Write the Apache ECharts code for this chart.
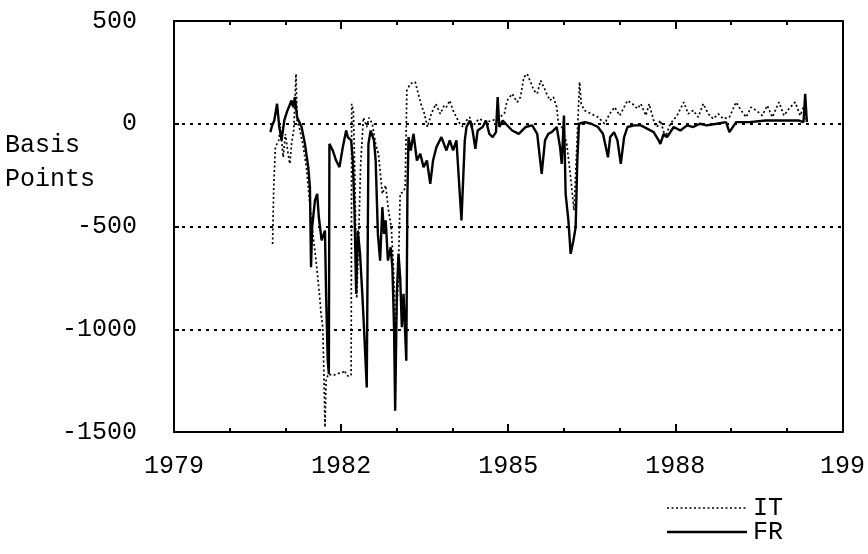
<!DOCTYPE html>
<html>
<head>
<meta charset="utf-8">
<script src="https://cdn.jsdelivr.net/npm/echarts@6/dist/echarts.min.js"></script>
<style>
html,body{margin:0;padding:0;background:#fff;}
#chart{width:868px;height:554px;}
</style>
</head>
<body>
<div id="chart"></div>
<script>
// ---- data ----
const baseYear = 1979;
const xTickLabels = ['1979', '1982', '1985', '1988', '199'];
const yTickValues = [500, 0, -500, -1000, -1500];
const seriesNames = ['IT', 'FR'];

const itDates = [1980.77,1980.79,1980.82,1980.88,1980.91,1980.96,1981.00,1981.05,1981.08,1981.11,1981.15,1981.19,1981.21,1981.26,1981.32,1981.38,1981.44,1981.50,1981.55,1981.61,1981.64,1981.67,1981.69,1981.71,1981.73,1981.77,1981.85,1981.95,1982.03,1982.06,1982.10,1982.15,1982.18,1982.19,1982.22,1982.25,1982.28,1982.31,1982.35,1982.40,1982.46,1982.50,1982.56,1982.62,1982.67,1982.74,1982.80,1982.85,1982.90,1982.94,1982.98,1983.02,1983.06,1983.12,1983.15,1983.18,1983.24,1983.33,1983.40,1983.45,1983.48,1983.55,1983.62,1983.70,1983.78,1983.85,1983.89,1983.95,1984.01,1984.07,1984.13,1984.19,1984.25,1984.31,1984.36,1984.42,1984.48,1984.60,1984.72,1984.84,1984.93,1984.98,1985.07,1985.16,1985.22,1985.28,1985.34,1985.40,1985.46,1985.52,1985.58,1985.64,1985.69,1985.75,1985.81,1985.87,1985.90,1985.96,1986.05,1986.12,1986.18,1986.22,1986.28,1986.31,1986.37,1986.49,1986.61,1986.73,1986.82,1986.91,1987.00,1987.05,1987.14,1987.23,1987.32,1987.38,1987.47,1987.53,1987.61,1987.67,1987.73,1987.82,1987.91,1988.03,1988.15,1988.23,1988.32,1988.41,1988.50,1988.59,1988.68,1988.77,1988.86,1988.97,1989.09,1989.18,1989.27,1989.36,1989.45,1989.56,1989.65,1989.74,1989.86,1989.95,1990.04,1990.15,1990.24,1990.30,1990.36];
const itValues = [-585,-309,-114,-81,-16,-163,-50,-150,-195,-98,-30,243,16,-30,-110,-220,-400,-552,-666,-828,-925,-990,-1200,-1477,-1250,-1218,-1225,-1215,-1210,-1200,-1225,-1230,-1220,97,60,-300,-850,-600,-200,30,-16,30,0,-100,-146,-341,-300,-422,-500,-700,-1000,-800,-341,-330,-309,162,195,203,130,80,65,-16,50,97,48,90,81,113,65,32,0,-16,16,32,-16,8,24,8,16,32,48,113,146,105,130,227,243,203,162,146,211,178,146,113,130,81,0,-16,-98,-260,-422,-179,203,97,65,48,32,0,48,81,40,65,113,97,73,97,40,97,16,-16,16,-65,0,40,105,48,65,32,97,48,24,48,24,32,105,65,32,81,65,40,89,32,105,40,73,105,40,81,16];

const frDates = [1980.73,1980.76,1980.80,1980.85,1980.89,1980.93,1980.98,1981.03,1981.11,1981.14,1981.17,1981.21,1981.29,1981.35,1981.41,1981.44,1981.46,1981.48,1981.53,1981.57,1981.60,1981.65,1981.71,1981.73,1981.76,1981.78,1981.79,1981.85,1981.91,1981.97,1982.03,1982.09,1982.12,1982.18,1982.21,1982.24,1982.27,1982.30,1982.34,1982.38,1982.41,1982.46,1982.49,1982.53,1982.59,1982.62,1982.66,1982.70,1982.74,1982.77,1982.80,1982.84,1982.89,1982.92,1982.95,1982.97,1983.00,1983.03,1983.06,1983.09,1983.12,1983.17,1983.19,1983.21,1983.25,1983.30,1983.36,1983.42,1983.48,1983.54,1983.60,1983.65,1983.71,1983.80,1983.89,1983.95,1984.01,1984.07,1984.16,1984.22,1984.25,1984.31,1984.36,1984.41,1984.45,1984.54,1984.60,1984.66,1984.72,1984.78,1984.81,1984.84,1984.90,1985.01,1985.07,1985.19,1985.31,1985.43,1985.52,1985.60,1985.66,1985.72,1985.78,1985.87,1985.93,1985.96,1986.00,1986.03,1986.08,1986.12,1986.17,1986.21,1986.24,1986.27,1986.37,1986.49,1986.61,1986.70,1986.74,1986.79,1986.83,1986.90,1986.96,1987.02,1987.08,1987.14,1987.26,1987.38,1987.50,1987.61,1987.70,1987.73,1987.79,1987.85,1987.97,1988.09,1988.21,1988.32,1988.44,1988.56,1988.74,1988.91,1988.97,1989.09,1989.33,1989.62,1989.92,1990.21,1990.30,1990.33,1990.36];
const frValues = [-41,-10,16,97,-16,-81,16,60,113,80,130,32,-16,-98,-211,-309,-698,-503,-374,-341,-455,-568,-520,-828,-1153,-1218,-98,-130,-179,-211,-114,-33,-65,-81,-179,-422,-828,-520,-633,-828,-990,-1283,-98,-33,-81,-179,-536,-666,-406,-536,-470,-666,-601,-698,-990,-1396,-828,-633,-747,-990,-828,-1153,-341,-65,-130,-49,-179,-146,-211,-179,-292,-179,-114,-65,-130,-81,-130,-81,-471,-81,-16,16,-33,-122,-33,-16,16,-49,-65,-41,130,-16,16,-16,-33,-49,-16,-8,-49,-244,-81,-49,-41,-16,-114,-195,40,-341,-471,-633,-568,-503,-179,0,8,0,-16,-49,-98,-163,-65,-41,-81,-195,-65,-16,-8,-8,-25,-41,-81,-98,-49,-65,-16,-33,-8,-16,0,-8,0,8,-41,8,8,16,16,16,8,146,8];

function pairs(dates, values) {
  return dates.map((d, i) => [d - baseYear, values[i]]);
}

const FONT = 'Liberation Mono';
const IT_STYLE = {color: '#000', width: 1.7, type: [2, 2.5]};
const FR_STYLE = {color: '#000', width: 2.4, type: 'solid'};
const chart = echarts.init(document.getElementById('chart'), null, {renderer: 'canvas'});
const axisLineStyle = {color: '#000', width: 2};

chart.setOption({
  animation: false,
  backgroundColor: '#fff',
  grid: {left: 174, right: 17, top: 21, bottom: 122, show: false},
  xAxis: [{
    type: 'value', min: 0, max: 12, interval: 3, position: 'bottom',
    axisLine: {show: true, onZero: false, lineStyle: axisLineStyle},
    axisTick: {show: true, inside: true, length: 8, lineStyle: {color: '#000', width: 2}},
    minorTick: {show: true, splitNumber: 3, length: 4, lineStyle: {color: '#000', width: 2}},
    axisLabel: {
      margin: 22, color: '#000', fontFamily: FONT, fontSize: 25,
      formatter: v => xTickLabels[Math.round(v / 3)] || ''
    },
    splitLine: {show: false}
  }, {
    type: 'value', min: 0, max: 12, interval: 3, position: 'top',
    axisLine: {show: true, onZero: false, lineStyle: axisLineStyle},
    axisTick: {show: true, inside: true, length: 8, lineStyle: {color: '#000', width: 2}},
    minorTick: {show: true, splitNumber: 3, length: 4, lineStyle: {color: '#000', width: 2}},
    axisLabel: {show: false},
    splitLine: {show: false}
  }],
  yAxis: [{
    type: 'value', min: yTickValues[yTickValues.length - 1], max: yTickValues[0], interval: 500,
    position: 'left',
    axisLine: {show: true, onZero: false, lineStyle: axisLineStyle},
    axisTick: {show: true, inside: true, length: 5, lineStyle: {color: '#000', width: 2}},
    axisLabel: {margin: 37, color: '#000', fontFamily: FONT, fontSize: 25, formatter: v => String(v)},
    splitLine: {show: true, lineStyle: {color: '#000', width: 2, type: [3, 5]}}
  }, {
    type: 'value', min: -1500, max: 500, interval: 500, position: 'right',
    axisLine: {show: true, onZero: false, lineStyle: axisLineStyle},
    axisTick: {show: false}, axisLabel: {show: false}, splitLine: {show: false}
  }],
  graphic: [{
    type: 'text', left: 5, top: 128,
    style: {text: 'Basis\nPoints', font: '25px "Liberation Mono"', fill: '#000', lineHeight: 34}
  }, {
    type: 'line', shape: {x1: 667, y1: 508, x2: 747, y2: 508},
    style: {stroke: '#000', lineWidth: IT_STYLE.width, lineDash: IT_STYLE.type}
  }, {
    type: 'text', x: 753, y: 508,
    style: {text: seriesNames[0], font: '25px "Liberation Mono"', fill: '#000', verticalAlign: 'middle'}
  }, {
    type: 'line', shape: {x1: 667, y1: 532, x2: 747, y2: 532},
    style: {stroke: '#000', lineWidth: FR_STYLE.width}
  }, {
    type: 'text', x: 753, y: 532,
    style: {text: seriesNames[1], font: '25px "Liberation Mono"', fill: '#000', verticalAlign: 'middle'}
  }],
  series: [{
    name: seriesNames[0], type: 'line', symbol: 'none', xAxisIndex: 0, yAxisIndex: 0,
    data: pairs(itDates, itValues),
    lineStyle: IT_STYLE, itemStyle: {color: '#000'}
  }, {
    name: seriesNames[1], type: 'line', symbol: 'none', xAxisIndex: 0, yAxisIndex: 0,
    data: pairs(frDates, frValues),
    lineStyle: FR_STYLE, itemStyle: {color: '#000'}
  }]
});
</script>
</body>
</html>
